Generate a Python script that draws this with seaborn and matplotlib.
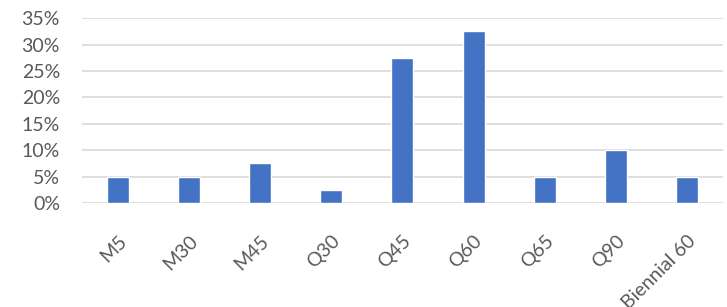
import pandas as pd
import matplotlib.pyplot as plt
import seaborn as sns
from matplotlib.ticker import PercentFormatter

# data
categories = ['M5', 'M30', 'M45', 'Q30', 'Q45', 'Q60', 'Q65', 'Q90', 'Biennial 60']
shares = [5.0, 5.0, 7.5, 2.5, 27.5, 32.5, 5.0, 10.0, 5.0]

df = pd.DataFrame({'cat': categories, 'share': shares})

sns.set_style('white')
plt.rcParams['font.family'] = ['Lato', 'DejaVu Sans']

fig = plt.figure(figsize=(7.27, 3.07), dpi=100)
ax = fig.add_axes([0.113, 0.339, 0.881, 0.602])

sns.barplot(data=df, x='cat', y='share', color='#4472C4', saturation=1,
            width=0.31, ax=ax, zorder=3)

ax.set_ylim(0, 35)
ax.set_yticks(range(0, 36, 5))
ax.yaxis.set_major_formatter(PercentFormatter(decimals=0))
ax.grid(axis='y', color='#d9d9d9', linewidth=1.2, zorder=0)
ax.set_xlabel('')
ax.set_ylabel('')
for s in ax.spines.values():
    s.set_visible(False)
ax.tick_params(axis='both', length=0, colors='#595959', labelsize=14)
ax.tick_params(axis='y', pad=16)
plt.setp(ax.get_xticklabels(), rotation=45, ha='right', rotation_mode='anchor')
ax.tick_params(axis='x', pad=21)

fig.savefig('out.png', dpi=100)
